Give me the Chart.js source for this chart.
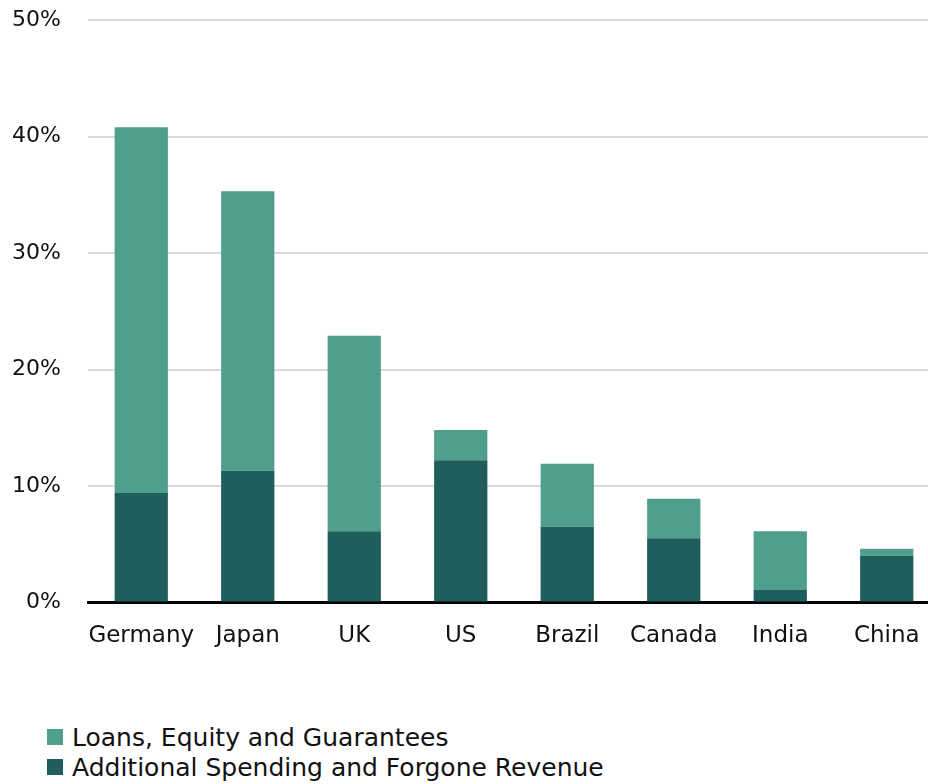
<!DOCTYPE html>
<html>
<head>
<meta charset="utf-8">
<script src="https://cdn.jsdelivr.net/npm/chart.js@4/dist/chart.umd.min.js"></script>
<style>
  html, body { margin: 0; padding: 0; background: #fff; overflow: hidden; }
  body { width: 928px; height: 784px; position: relative; font-family: "DejaVu Sans", sans-serif; }
  #wrap { position: absolute; left: 0; top: -20px; width: 940px; height: 690px; }
  #legend { position: absolute; left: 47px; top: 722px; }
  .item { display: flex; align-items: center; height: 30px; font-size: 25px; color: #111; }
  .swatch { width: 16px; height: 16px; margin-right: 9px; }
</style>
</head>
<body>
<div id="wrap"><canvas id="chart"></canvas></div>
<div id="legend"></div>
<script>
const countries = ["Germany", "Japan", "UK", "US", "Brazil", "Canada", "India", "China"];
// share of GDP, %
const spending = [9.4, 11.3, 6.1, 12.2, 6.5, 5.5, 1.1, 4.0];
const loans = [31.4, 24.0, 16.8, 2.6, 5.4, 3.4, 5.0, 0.6];
const yTicks = [0, 10, 20, 30, 40, 50];

const fontFamily = '"DejaVu Sans", sans-serif';
const lightGreen = '#4e9f8b';
const darkGreen = '#1f5e5c';

Chart.defaults.font.family = fontFamily;
Chart.defaults.color = '#111';

const chart = new Chart(document.getElementById('chart'), {
  type: 'bar',
  data: {
    labels: countries,
    datasets: [
      { label: 'Additional Spending and Forgone Revenue', data: spending, backgroundColor: darkGreen, legendOrder: 1 },
      { label: 'Loans, Equity and Guarantees', data: loans, backgroundColor: lightGreen, legendOrder: 0 }
    ]
  },
  options: {
    responsive: true,
    maintainAspectRatio: false,
    animation: false,
    layout: { padding: 0 },
    datasets: { bar: { barPercentage: 0.5, categoryPercentage: 1 } },
    plugins: { legend: { display: false }, tooltip: { enabled: false } },
    scales: {
      x: {
        stacked: true,
        grid: { display: false, drawTicks: false },
        border: { color: '#000', width: 3 },
        ticks: { font: { size: 23 }, padding: 20, maxRotation: 0, autoSkip: false }
      },
      y: {
        stacked: true,
        min: 0,
        max: 50,
        afterFit: s => { s.width = 88; },
        afterBuildTicks: s => { s.ticks = yTicks.map(v => ({ value: v })); },
        grid: { color: '#d9d9d9', lineWidth: 2, drawTicks: false },
        border: { display: false },
        ticks: { font: { size: 22 }, padding: 27, callback: v => v + '%' }
      }
    }
  }
});

// legend built from the datasets, light series first
const legend = document.getElementById('legend');
chart.data.datasets
  .slice()
  .sort((a, b) => a.legendOrder - b.legendOrder)
  .forEach(ds => {
    const row = document.createElement('div');
    row.className = 'item';
    const sw = document.createElement('span');
    sw.className = 'swatch';
    sw.style.background = ds.backgroundColor;
    row.appendChild(sw);
    row.appendChild(document.createTextNode(ds.label));
    legend.appendChild(row);
  });
</script>
</body>
</html>
